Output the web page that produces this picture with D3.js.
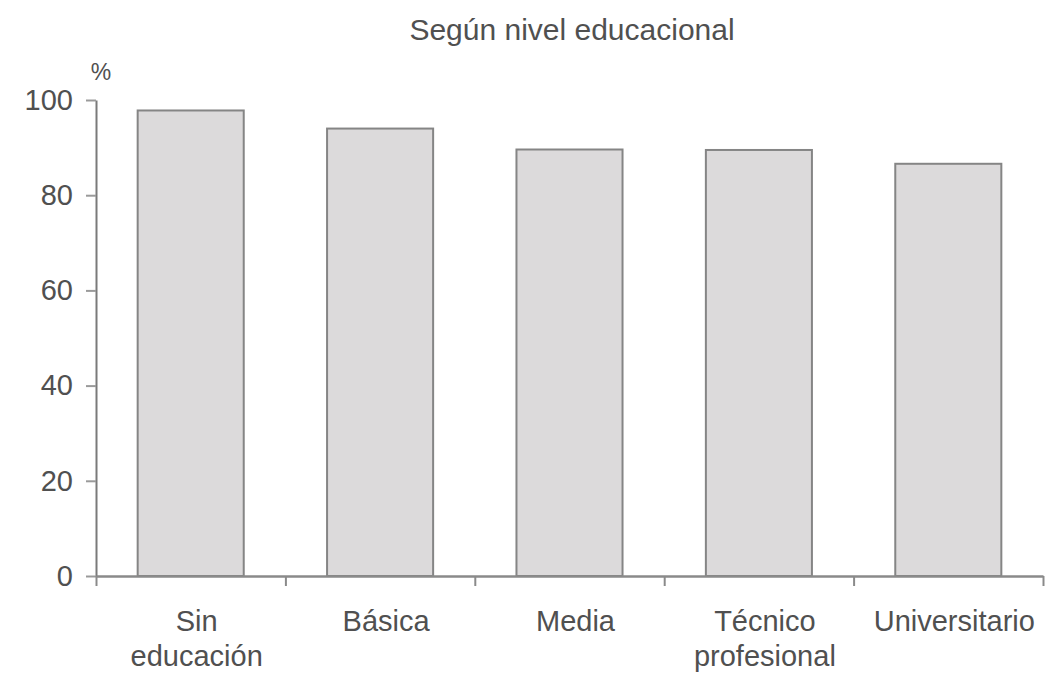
<!DOCTYPE html>
<html>
<head>
<meta charset="utf-8">
<script src="https://cdn.jsdelivr.net/npm/d3@7"></script>
<style>
  body { margin: 0; background: #fff; }
  text { font-family: "Liberation Sans", Arial, sans-serif; fill: #505050; }
</style>
</head>
<body>
<div id="chart"></div>
<script>
// data
const categories = [["Sin", "educación"], ["Básica"], ["Media"], ["Técnico", "profesional"], ["Universitario"]];
const values = [97.8, 94, 89.6, 89.5, 86.6];
const yTicks = [0, 20, 40, 60, 80, 100];
const title = "Según nivel educacional";

const width = 1059, height = 677;
const margin = { left: 96, right: 16, top: 100, bottom: 101 };

const svg = d3.select("#chart").append("svg")
  .attr("width", width).attr("height", height);

const x = d3.scaleBand()
  .domain(d3.range(categories.length))
  .range([margin.left, width - margin.right])
  .paddingInner(0.44).paddingOuter(0.22);

const y = d3.scaleLinear()
  .domain([0, 100])
  .range([height - margin.bottom, margin.top]);

// bars
svg.append("g")
  .selectAll("rect")
  .data(values)
  .join("rect")
  .attr("x", (d, i) => x(i))
  .attr("y", (d) => y(d))
  .attr("width", x.bandwidth())
  .attr("height", (d) => y(0) - y(d))
  .attr("fill", "#dcdadb")
  .attr("stroke", "#858585")
  .attr("stroke-width", 2);

// y axis
const yAxis = d3.axisLeft(y).tickValues(yTicks).tickSize(10).tickPadding(13).tickSizeOuter(0);
const gy = svg.append("g").attr("transform", `translate(${margin.left},0)`).call(yAxis);
gy.select(".domain").attr("stroke", "#7a7a7a").attr("stroke-width", 2);
gy.selectAll(".tick line").attr("stroke", "#9a9a9a").attr("stroke-width", 2);
gy.selectAll(".tick text")
  .attr("font-size", 29)
  .attr("font-family", "'Liberation Sans', Arial, sans-serif")
  .attr("fill", "#505050");

// x axis: ticks at band boundaries
const xLin = d3.scaleLinear().domain([0, categories.length]).range([margin.left, width - margin.right]);
const xAxis = d3.axisBottom(xLin).ticks(categories.length).tickSize(10).tickFormat("").tickSizeOuter(0);
const gx = svg.append("g").attr("transform", `translate(0,${y(0)})`).call(xAxis);
gx.select(".domain").attr("stroke", "#8a8a8a").attr("stroke-width", 2.5);
gx.selectAll(".tick line").attr("stroke", "#8a8a8a").attr("stroke-width", 2);

// category labels
const lab = svg.append("g")
  .selectAll("text")
  .data(categories)
  .join("text")
  .attr("x", (d, i) => x(i) + x.bandwidth() / 2 + 6)
  .attr("y", y(0) + 55)
  .attr("text-anchor", "middle")
  .attr("font-size", 29);
lab.selectAll("tspan")
  .data((d) => d)
  .join("tspan")
  .attr("x", function () { return this.parentNode.getAttribute("x"); })
  .attr("dy", (d, i) => (i === 0 ? 0 : 35))
  .text((d) => d);

// title and unit
svg.append("text")
  .attr("x", 572).attr("y", 40)
  .attr("text-anchor", "middle")
  .attr("font-size", 30)
  .text(title);

svg.append("text")
  .attr("x", margin.left + 5).attr("y", 80)
  .attr("text-anchor", "middle")
  .attr("font-size", 23)
  .attr("fill", "#888")
  .text("%");
</script>
</body>
</html>
